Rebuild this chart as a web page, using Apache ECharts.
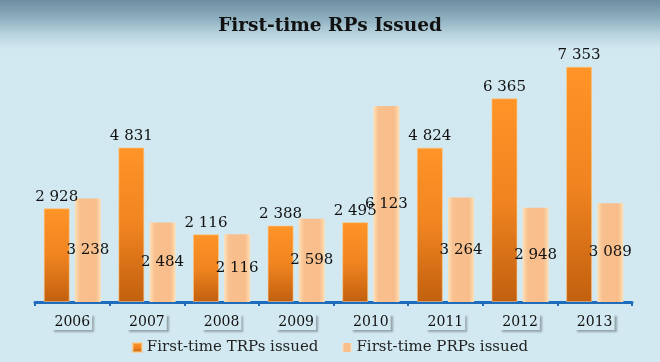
<!DOCTYPE html>
<html><head><meta charset="utf-8">
<script src="https://cdn.jsdelivr.net/npm/echarts@6/dist/echarts.min.js"></script>
<style>html,body{margin:0;padding:0;}#c{width:660px;height:362px;}</style>
</head><body><div id="c"></div>
<script>
var categories = ['2006','2007','2008','2009','2010','2011','2012','2013'];
var trpIssued = [2928, 4831, 2116, 2388, 2495, 4824, 6365, 7353];
var prpIssued = [3238, 2484, 2116, 2598, 6123, 3264, 2948, 3089];
var seriesNames = ['First-time TRPs issued', 'First-time PRPs issued'];
var titleText = 'First-time RPs Issued';

function fmt(p){ return String(p.value).replace(/\B(?=(\d{3})+(?!\d))/g, ' '); }
var serif = '"DejaVu Serif", "Liberation Serif", serif';
var chart = echarts.init(document.getElementById('c'));
chart.setOption({
  backgroundColor: {type:'linear', x:0, y:0, x2:0, y2:1, colorStops:[
    {offset:0, color:'#6d8ea2'}, {offset:0.05, color:'#8eafbf'}, {offset:0.095, color:'#b8d3de'}, {offset:0.135, color:'#d2e8f0'}, {offset:1, color:'#d3e9f1'}]},
  title: {text: titleText, left:'center', top:12, textStyle:{fontFamily: serif, fontSize:18.5, fontWeight:'bold', color:'#111'}},
  legend: {bottom:2, left:'center', itemWidth:9, itemHeight:9, itemGap:24, icon:'rect',
    textStyle:{fontFamily: serif, fontSize:15, color:'#222'}},
  grid: {left:35, right:28, top:46, bottom:60},
  xAxis: {type:'category', data: categories,
    axisLine:{lineStyle:{color:'#1f6cbd', width:3}},
    axisTick:{show:true, length:4, lineStyle:{color:'#1f6cbd', width:2}},
    axisLabel:{fontFamily: serif, fontSize:14, color:'#111', margin:12,
      backgroundColor:'#d3e9f1', padding:[1,2,1,2],
      shadowColor:'rgba(0,0,0,0.3)', shadowBlur:2, shadowOffsetX:2, shadowOffsetY:2}},
  yAxis: {type:'value', min:0, max:8000, show:false, splitLine:{show:false}},
  series: [
    {name: seriesNames[0], type:'bar', data: trpIssued, barWidth:26, barGap:'20%',
      itemStyle:{color:{type:'linear', x:0, y:0, x2:0, y2:1, colorStops:[
        {offset:0, color:'#ff9428'}, {offset:0.5, color:'#f08420'}, {offset:1, color:'#c2600f'}]},
        borderColor:'rgba(255,200,130,0.6)', borderWidth:1},
      label:{show:true, position:'top', formatter: fmt, fontFamily: serif, fontSize:15, color:'#111', distance:4}},
    {name: seriesNames[1], type:'bar', data: prpIssued, barWidth:26,
      itemStyle:{color:{type:'linear', x:0, y:0, x2:1, y2:0, colorStops:[
        {offset:0, color:'#fde0b8'}, {offset:0.2, color:'#f8c08e'}, {offset:0.8, color:'#f8bd8a'}, {offset:1, color:'#fde0b8'}]}},
      label:{show:true, position:'inside', formatter: fmt, fontFamily: serif, fontSize:15, color:'#111'}}
  ]
});
</script></body></html>
